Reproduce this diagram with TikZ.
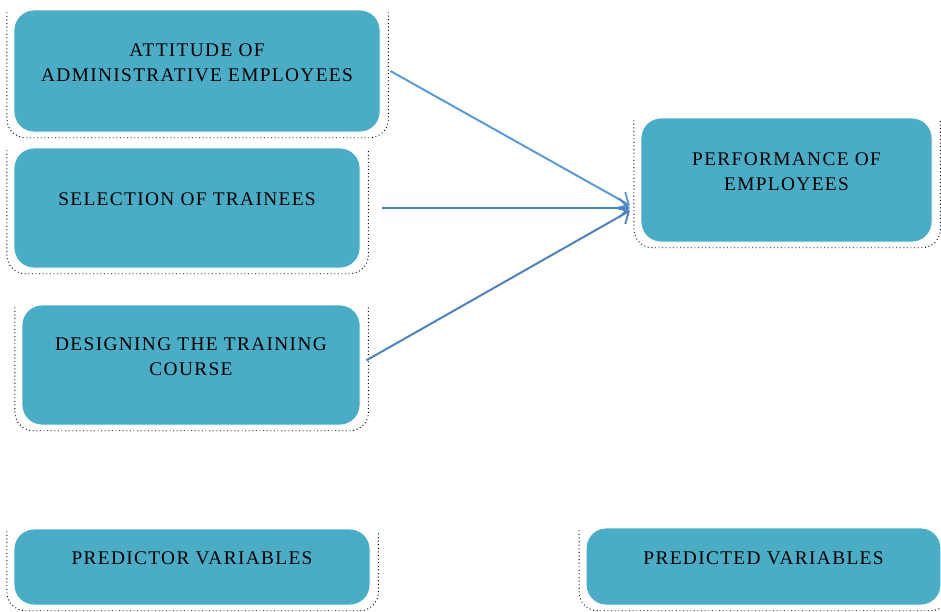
\documentclass[tikz,border=0pt]{standalone}
\usepackage{fontspec}
\setmainfont{Liberation Serif}
\usetikzlibrary{arrows.meta,positioning}
\definecolor{boxteal}{RGB}{75,172,198}
\definecolor{arrlight}{RGB}{91,155,213}
\definecolor{arrdark}{RGB}{79,129,189}
\tikzset{
  varbox/.style={draw=white, line width=0.6pt, fill=boxteal, rounded corners=15pt,
    align=center, font=\fontsize{14.5}{18.8}\selectfont\addfontfeature{LetterSpace=7}, text depth=13pt},
  dotline/.style={black, line width=0.7pt, dotted, rounded corners=14pt},
  link/.style={line width=1.5pt, -{Straight Barb[length=7pt,width=14pt,line width=1.4pt]}}
}
\newcommand{\dotframe}[1]{%
  \draw[dotline] ([shift={(-5pt,-2pt)}]#1.north west) -- ([shift={(-5pt,-4pt)}]#1.south west)
    -- ([shift={(6pt,-4pt)}]#1.south east) -- ([shift={(6pt,-2pt)}]#1.north east);}

\begin{document}
\begin{tikzpicture}[x=0.75pt,y=-0.75pt]
\useasboundingbox (0,0) rectangle (941,611);

\node[varbox, minimum width=274.5pt, minimum height=91.5pt] (att) at (197,71)
  {ATTITUDE OF\\ADMINISTRATIVE EMPLOYEES};
\node[varbox, minimum width=259.5pt, minimum height=90pt] (sel) at (187,208)
  {SELECTION OF TRAINEES};
\node[varbox, minimum width=253.5pt, minimum height=90pt] (des) at (191,365)
  {DESIGNING THE TRAINING\\COURSE};
\node[varbox, minimum width=218.25pt, minimum height=93pt] (perf) at (786.5,180)
  {PERFORMANCE OF\\EMPLOYEES};

\node[varbox, minimum width=267pt, minimum height=57pt] (pred) at (192,567)
  {PREDICTOR VARIABLES};
\node[varbox, minimum width=266pt, minimum height=57.75pt] (predd) at (763.5,566.5)
  {PREDICTED VARIABLES};

\dotframe{att}
\dotframe{sel}
\dotframe{des}
\dotframe{perf}
\dotframe{pred}
\dotframe{predd}

% arrows into the outcome
\coordinate (hub) at ([shift={(-8pt,-21pt)}]perf.west);
\draw[link, arrlight] ([xshift=7.5pt]att.east) -- ([yshift=2pt]hub);
\draw[link, arrdark, line width=2.2pt] ([xshift=16pt]sel.east) -- (hub);
\draw[link, arrdark] ([shift={(4.5pt,3.5pt)}]des.east) -- ([yshift=-2pt]hub);

\end{tikzpicture}
\end{document}
